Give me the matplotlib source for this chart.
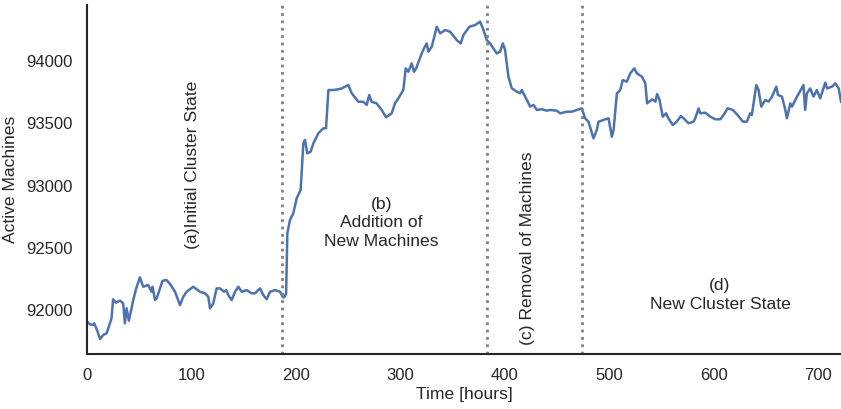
import matplotlib
matplotlib.use("Agg")
import matplotlib.pyplot as plt

plt.rcParams["font.family"] = ["Liberation Sans", "DejaVu Sans"]

# Active machine count over time
hours = [0, 3, 6, 7, 10, 12.5, 15.6, 18.8, 21, 23.5, 25, 27.7, 31.6, 34.7, 36.3, 37.9,
         40.1, 44.3, 47, 50.7, 53.8, 58.6, 61.8, 62.8, 65.1, 66.7, 72.4, 76.2, 79.5,
         84.3, 89, 92.2, 95.4, 101.7, 108.2, 113, 116.1, 117.8, 120.9, 124.1, 127.4,
         131.2, 133.3, 135.3, 138.5, 141.7, 144.9, 148.1, 152.8, 157.6, 160.8, 165.7,
         168.8, 172, 175.2, 180, 184.8, 187.3, 188.5, 190.6, 191.8, 194.3, 197.5,
         200.7, 204.5, 207.1, 208.7, 210.9, 214.1, 216.7, 221.5, 226.3, 228.8, 231.1,
         235.8, 240.6, 243.8, 250.2, 253.4, 259.8, 264.5, 267.7, 270.2, 272.4, 277.2,
         282.1, 286.3, 291.7, 294.8, 298, 302.8, 305.1, 307.6, 310.8, 313, 315.1,
         320.4, 322.6, 325.2, 326.8, 330, 334.8, 338, 342.8, 347.6, 350.1, 353.9,
         357.7, 360.3, 366, 371.5, 376.3, 379.5, 382.6, 385.8, 392.2, 395.4, 398,
         400.2, 403.4, 406.6, 411.4, 414.6, 416.2, 419.4, 422.6, 424.2, 427.4, 430.6,
         435.4, 440.1, 443.3, 449.7, 452.9, 459.3, 464.1, 468.9, 473.6, 476.8, 480,
         484.8, 488, 489.6, 494.4, 499.2, 502.4, 504, 507.2, 510.4, 512.8, 516.7, 520,
         523.8, 526.4, 531.2, 534.4, 536.1, 540.9, 544.1, 545.7, 548, 551.1, 554.3,
         556.5, 560.7, 564.5, 568.4, 571, 575.8, 580.6, 582.2, 585.4, 587, 591.8,
         596.6, 601.4, 606.2, 609.4, 613.1, 618.2, 622.6, 627.8, 631.6, 634.8, 636.4,
         640.6, 642.8, 645.4, 649.2, 652.4, 655.6, 659.8, 661.4, 665.2, 668.4, 669.9,
         673.2, 674.8, 679.6, 685.8, 687.4, 689, 692.2, 695.4, 698.6, 701.8, 706.7,
         708.3, 713.1, 716.3, 719.5, 721.7]

active_machines = [91906, 91885, 91880, 91893, 91830, 91767, 91800, 91813, 91870, 91933,
                   92086, 92059, 92075, 92054, 91893, 92014, 91914, 92080, 92170, 92263,
                   92187, 92201, 92147, 92187, 92080, 92094, 92235, 92241, 92209, 92147,
                   92040, 92107, 92147, 92187, 92147, 92134, 92107, 92013, 92054, 92174,
                   92174, 92147, 92160, 92120, 92080, 92147, 92187, 92147, 92160, 92134,
                   92134, 92174, 92120, 92086, 92147, 92160, 92147, 92107, 92100, 92130,
                   92616, 92723, 92777, 92897, 92964, 93339, 93366, 93259, 93272, 93339,
                   93420, 93460, 93460, 93767, 93767, 93773, 93780, 93807, 93741, 93673,
                   93673, 93647, 93727, 93673, 93660, 93607, 93548, 93580, 93660, 93700,
                   93767, 93941, 93914, 93981, 93914, 93941, 94061, 94101, 94141, 94075,
                   94115, 94275, 94222, 94249, 94235, 94209, 94168, 94141, 94209, 94275,
                   94289, 94316, 94249, 94169, 94142, 94061, 94075, 94142, 94088, 93874,
                   93781, 93754, 93741, 93767, 93714, 93660, 93634, 93647, 93607, 93613,
                   93601, 93607, 93601, 93580, 93593, 93593, 93607, 93620, 93540, 93513,
                   93379, 93446, 93512, 93527, 93540, 93392, 93446, 93740, 93767, 93847,
                   93834, 93901, 93941, 93901, 93874, 93821, 93660, 93692, 93674, 93735,
                   93688, 93553, 93580, 93540, 93486, 93513, 93558, 93540, 93500, 93513,
                   93540, 93620, 93580, 93585, 93553, 93532, 93532, 93567, 93620, 93607,
                   93567, 93513, 93513, 93580, 93567, 93807, 93767, 93634, 93687, 93674,
                   93714, 93794, 93727, 93714, 93607, 93540, 93660, 93634, 93714, 93807,
                   93607, 93740, 93780, 93714, 93767, 93700, 93827, 93780, 93794, 93820,
                   93780, 93673]

# Phase boundaries (hours)
phase_bounds = [187, 383, 474]

line_color = "#4C72B0"
ink = "#262626"
label_size = 12.6

fig = plt.figure(figsize=(8.41, 4.09), dpi=100)
ax = fig.add_axes([0.1034, 0.1345, 0.8966, 0.8533])

ax.plot(hours, active_machines, color=line_color, linewidth=1.8)

for b in phase_bounds:
    ax.axvline(b, color="gray", linestyle=":", linewidth=2)

ax.set_xlim(0, hours[-1])
ax.set_ylim(91647, 94450)
ax.set_xticks([0, 100, 200, 300, 400, 500, 600, 700])
ax.set_yticks([92000, 92500, 93000, 93500, 94000])

for side in ("top", "right"):
    ax.spines[side].set_visible(False)
for side in ("left", "bottom"):
    ax.spines[side].set_color(ink)
    ax.spines[side].set_linewidth(1.5)

ax.tick_params(axis="both", length=0, labelsize=12, labelcolor=ink, pad=10)
ax.set_xlabel("Time [hours]", fontsize=label_size, color=ink, labelpad=3)
ax.set_ylabel("Active Machines", fontsize=label_size, color=ink, labelpad=6)

ax.text(101, 93170, "(a)Initial Cluster State", rotation=90, fontsize=label_size,
        color=ink, ha="center", va="center")
ax.text(282, 92700, "(b)\nAddition of\nNew Machines", fontsize=label_size,
        color=ink, ha="center", va="center", linespacing=1.3)
ax.text(422, 92500, "(c) Removal of Machines", rotation=90, fontsize=label_size,
        color=ink, ha="center", va="center")
ax.text(606, 92120, "(d)\nNew Cluster State", fontsize=label_size,
        color=ink, ha="center", va="center", linespacing=1.3)

fig.savefig("out.png", dpi=100)
